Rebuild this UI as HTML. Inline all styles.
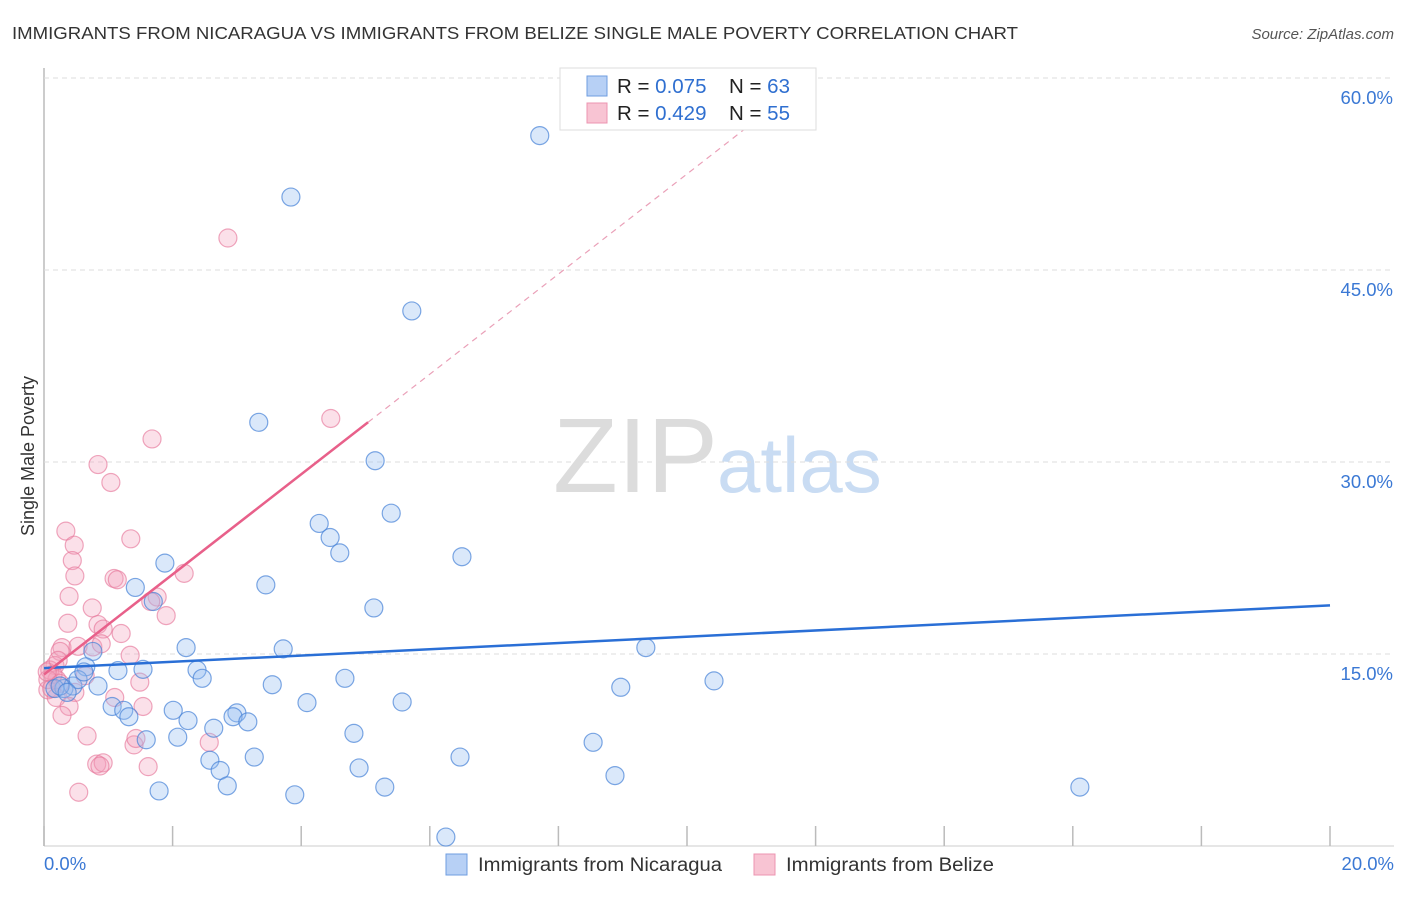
<!DOCTYPE html>
<html><head><meta charset="utf-8">
<style>
body{margin:0;background:#fff;font-family:"Liberation Sans",sans-serif;}
svg text{font-family:"Liberation Sans",sans-serif;}
</style></head>
<body>
<svg id="chart" width="1406" height="892" xmlns="http://www.w3.org/2000/svg">
<text x="12" y="39" font-size="17.5" fill="#333" textLength="1006" lengthAdjust="spacingAndGlyphs">IMMIGRANTS FROM NICARAGUA VS IMMIGRANTS FROM BELIZE SINGLE MALE POVERTY CORRELATION CHART</text>
<text x="1394" y="39" font-size="15" fill="#555" font-style="italic" text-anchor="end">Source: ZipAtlas.com</text>
<text x="553" y="492" font-size="106" fill="#dcdcdc" font-family="Liberation Serif, serif">ZIP</text>
<text x="717" y="492" font-size="78" fill="#c9dcf3">atlas</text>
<text transform="translate(34,456) rotate(-90)" font-size="18" fill="#333" text-anchor="middle">Single Male Poverty</text>
<g id="grid"></g><g id="marks"></g><g id="lines"></g>
<g>
<rect x="560" y="68" width="256" height="62" fill="#fff" stroke="#ddd"/>
<rect x="587" y="76" width="20" height="20" fill="#b7d0f5" stroke="#6f9ee0"/>
<rect x="587" y="103" width="20" height="20" fill="#f8c4d3" stroke="#ec94b0"/>
<text x="617" y="93" font-size="20.5" fill="#222">R = <tspan fill="#2f6fd0">0.075</tspan></text>
<text x="729" y="93" font-size="20.5" fill="#222">N = <tspan fill="#2f6fd0">63</tspan></text>
<text x="617" y="120" font-size="20.5" fill="#222">R = <tspan fill="#2f6fd0">0.429</tspan></text>
<text x="729" y="120" font-size="20.5" fill="#222">N = <tspan fill="#2f6fd0">55</tspan></text>
</g>
<g>
<rect x="446" y="854" width="21" height="21" fill="#b7d0f5" stroke="#6f9ee0"/>
<text x="478" y="871" font-size="19" fill="#333" textLength="244" lengthAdjust="spacingAndGlyphs">Immigrants from Nicaragua</text>
<rect x="754" y="854" width="21" height="21" fill="#f8c4d3" stroke="#ec94b0"/>
<text x="786" y="871" font-size="19" fill="#333" textLength="208" lengthAdjust="spacingAndGlyphs">Immigrants from Belize</text>
</g>
</svg>
<script>
const blueX=[7.71,3.84,5.72,3.34,5.15,5.40,4.28,4.45,4.60,6.50,1.88,3.45,1.42,1.70,5.13,9.36,2.21,3.72,0.76,1.15,1.54,0.65,2.38,2.46,4.68,10.42,3.55,8.97,0.84,0.31,0.45,0.17,0.25,4.09,5.57,1.06,1.24,2.01,1.32,2.24,3.00,2.94,3.17,2.64,4.82,2.08,1.59,8.54,3.27,6.47,2.58,2.74,4.90,8.88,2.85,5.30,16.11,1.79,3.90,6.25,0.53,0.62,0.36];
const blueY=[55.5,50.7,41.8,33.1,30.1,26.0,25.2,24.1,22.9,22.6,22.1,20.4,20.2,19.1,18.6,15.5,15.5,15.4,15.2,13.7,13.8,14.0,13.75,13.1,13.1,12.9,12.6,12.4,12.5,12.3,12.5,12.3,12.5,11.2,11.25,10.9,10.6,10.6,10.1,9.8,10.4,10.1,9.7,9.2,8.8,8.5,8.3,8.1,6.95,6.95,6.7,5.9,6.1,5.5,4.7,4.6,4.6,4.3,4.0,0.7,13.0,13.6,12.0];
const pinkX=[2.86,4.46,1.68,0.84,1.04,0.34,0.47,1.35,0.44,0.48,1.09,1.14,2.18,0.39,1.76,1.66,0.75,1.90,0.37,0.84,0.92,1.20,0.28,0.53,0.76,0.89,1.34,0.25,0.17,0.09,0.20,0.64,1.49,0.06,0.19,0.48,1.10,1.54,0.39,0.28,0.67,2.57,1.40,1.43,0.82,0.92,0.87,1.62,0.54,0.14,0.06,0.25,0.12,0.05,0.22];
const pinkY=[47.5,33.4,31.8,29.8,28.4,24.6,23.5,24.0,22.3,21.1,20.9,20.8,21.3,19.5,19.45,19.1,18.6,18.0,17.4,17.3,16.95,16.6,15.5,15.6,15.55,15.8,14.9,15.2,14.1,13.75,13.0,13.3,12.8,12.2,11.6,12.0,11.6,10.9,10.9,10.2,8.6,8.1,7.9,8.4,6.4,6.5,6.25,6.2,4.2,13.4,13.0,12.7,12.3,13.6,14.5];
const yTicks=[15,30,45,60];
const yTickLabels=["15.0%","30.0%","45.0%","60.0%"];
const xTickLabels=["0.0%","20.0%"];
const blueTrend=[13.9,18.8]; // y at x=0 and x=20
const pinkTrend=[13.4,3.91]; // intercept, slope
const pinkSolidEnd=5.04;
const NS="http://www.w3.org/2000/svg";
const X=v=>44+v*64.3, Y=v=>846-v*12.8;
function mk(t,a,p){const e=document.createElementNS(NS,t);for(const k in a)e.setAttribute(k,a[k]);p.appendChild(e);return e;}
const grid=document.getElementById('grid'),marks=document.getElementById('marks'),lines=document.getElementById('lines');
let ax=mk('line',{x1:44,y1:68,x2:44,y2:846,stroke:'#bbb','stroke-width':1.5},grid);


let bx=mk('line',{x1:44,y1:846,x2:1394,y2:846,stroke:'#ccc','stroke-width':1},grid);


for(let k=0;k<=10;k++){const t=mk('line',{x1:X(k*2),y1:826,x2:X(k*2),y2:846,stroke:'#bbb','stroke-width':1.5},grid);

}
yTicks.forEach((v,i)=>{const g=mk('line',{x1:44,y1:Y(v),x2:1394,y2:Y(v),stroke:'#ddd','stroke-dasharray':'5,4'},grid);


const t=mk('text',{x:1393,y:Y(v)+26,'font-size':18.5,fill:'#3a78d4','text-anchor':'end'},grid);t.textContent=yTickLabels[i];

});
[[0,'start',44],[20,'end',1394]].forEach((d,i)=>{const t=mk('text',{x:d[2],y:870,'font-size':18.5,fill:'#3a78d4','text-anchor':d[1]},grid);t.textContent=xTickLabels[i];

});
pinkX.forEach((v,i)=>{const c=mk('circle',{cx:X(v),cy:Y(pinkY[i]),r:9,fill:'rgba(244,160,187,0.32)',stroke:'rgba(230,120,155,0.65)','stroke-width':1.2},marks);

});
blueX.forEach((v,i)=>{const c=mk('circle',{cx:X(v),cy:Y(blueY[i]),r:9,fill:'rgba(150,190,240,0.35)',stroke:'rgba(70,130,215,0.7)','stroke-width':1.2},marks);

});
let bl=mk('line',{x1:X(0),y1:Y(blueTrend[0]),x2:X(20),y2:Y(blueTrend[1]),stroke:'#2a6fd6','stroke-width':2.5},lines);


const pEnd=(60-pinkTrend[0])/pinkTrend[1];
let pd=mk('line',{x1:X(pinkSolidEnd),y1:Y(pinkTrend[0]+pinkTrend[1]*pinkSolidEnd),x2:X(pEnd),y2:Y(60),stroke:'#eaa0b8','stroke-width':1.2,'stroke-dasharray':'6,5'},lines);


let pl=mk('line',{x1:X(0),y1:Y(pinkTrend[0]),x2:X(pinkSolidEnd),y2:Y(pinkTrend[0]+pinkTrend[1]*pinkSolidEnd),stroke:'#e8608a','stroke-width':2.5},lines);


</script>
</body></html>
